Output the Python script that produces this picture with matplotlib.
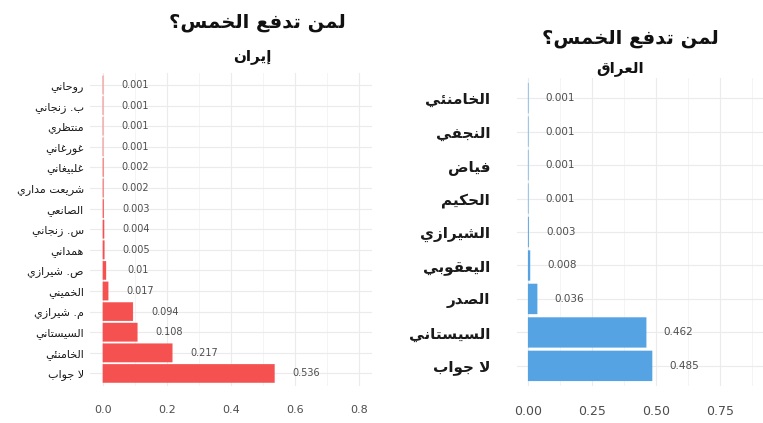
import numpy as np
import matplotlib
matplotlib.use("Agg")
import matplotlib.pyplot as plt
from matplotlib.ticker import MultipleLocator

plt.rcParams['font.family'] = ['DejaVu Sans']

# ---- data -------------------------------------------------------------
title_text = "لمن تدفع الخمس؟"

iran_title = "إيران"
iran_labels = ["روحاني", "ب. زنجاني", "منتظري", "غورغاني", "غلبيغاني",
               "شريعت مداري", "الصانعي", "س. زنجاني", "همداني", "ص. شيرازي",
               "الخميني", "م. شيرازي", "السيستاني", "الخامنئي", "لا جواب"]
iran_values = [0.001, 0.001, 0.001, 0.001, 0.002, 0.002, 0.003, 0.004,
               0.005, 0.01, 0.017, 0.094, 0.108, 0.217, 0.536]
iran_ticks = [0.0, 0.2, 0.4, 0.6, 0.8]

iraq_title = "العراق"
iraq_labels = ["الخامنئي", "النجفي", "فياض", "الحكيم", "الشيرازي",
               "اليعقوبي", "الصدر", "السيستاني", "لا جواب"]
iraq_values = [0.001, 0.001, 0.001, 0.001, 0.003, 0.008, 0.036, 0.462, 0.485]
iraq_ticks = [0.00, 0.25, 0.50, 0.75]

# ---- Arabic shaping (contextual forms + right-to-left order) ----------
DUAL = {'ئ': 0xFE89, 'ب': 0xFE8F, 'ت': 0xFE95, 'ث': 0xFE99, 'ج': 0xFE9D,
        'ح': 0xFEA1, 'خ': 0xFEA5, 'س': 0xFEB1, 'ش': 0xFEB5, 'ص': 0xFEB9,
        'ض': 0xFEBD, 'ط': 0xFEC1, 'ظ': 0xFEC5, 'ع': 0xFEC9, 'غ': 0xFECD,
        'ف': 0xFED1, 'ق': 0xFED5, 'ك': 0xFED9, 'ل': 0xFEDD, 'م': 0xFEE1,
        'ن': 0xFEE5, 'ه': 0xFEE9, 'ي': 0xFEF1}
RIGHT = {'آ': 0xFE81, 'أ': 0xFE83, 'ؤ': 0xFE85, 'إ': 0xFE87, 'ا': 0xFE8D,
         'ة': 0xFE93, 'د': 0xFEA9, 'ذ': 0xFEAB, 'ر': 0xFEAD, 'ز': 0xFEAF,
         'و': 0xFEED, 'ى': 0xFEEF}
LAM_ALEF = {'ا': 0xFEFB, 'أ': 0xFEF7, 'إ': 0xFEF9, 'آ': 0xFEF5}


def shape(s):
    units = []
    i = 0
    while i < len(s):
        c = s[i]
        if c == 'ل' and i + 1 < len(s) and s[i + 1] in LAM_ALEF:
            units.append(('LA', s[i + 1]))
            i += 2
        else:
            units.append(('C', c))
            i += 1

    def joins_next(u):
        return u[0] == 'C' and u[1] in DUAL

    def is_letter(u):
        return u[0] == 'LA' or u[1] in DUAL or u[1] in RIGHT

    out = []
    for k, u in enumerate(units):
        prev = units[k - 1] if k > 0 else None
        nxt = units[k + 1] if k + 1 < len(units) else None
        jp = prev is not None and joins_next(prev) and is_letter(u)
        jn = joins_next(u) and nxt is not None and is_letter(nxt)
        kind, c = u
        if kind == 'LA':
            out.append(chr(LAM_ALEF[c] + (1 if jp else 0)))
        elif c in DUAL:
            off = 3 if (jp and jn) else 1 if jp else 2 if jn else 0
            out.append(chr(DUAL[c] + off))
        elif c in RIGHT:
            out.append(chr(RIGHT[c] + (1 if jp else 0)))
        else:
            out.append(c)
    return ''.join(reversed(out))


# ---- figure -----------------------------------------------------------
W, H = 763, 423
fig = plt.figure(figsize=(W / 100, H / 100), dpi=100)
fig.patch.set_facecolor('white')


def px_axes(x0, y0, x1, y1):
    return fig.add_axes([x0 / W, 1 - y1 / H, (x1 - x0) / W, (y1 - y0) / H])


def draw_panel(ax, labels, values, color, xlim, major, minor, ticks, tick_fmt,
               label_off, label_size, label_weight, label_pad, val_size, tick_size):
    n = len(labels)
    y = np.arange(n)
    ax.barh(y, values, height=0.9, color=color, zorder=2, snap=False,
            edgecolor=color, linewidth=0.15)
    for yi, v in zip(y, values):
        ax.text(v + label_off, yi, f"{v:g}", ha='center', va='center',
                fontsize=val_size, color='#4d4d4d', zorder=3)
    ax.set_ylim(n - 0.4, -0.6)
    ax.set_xlim(*xlim)
    ax.set_yticks(y)
    ax.set_yticklabels([shape(l) for l in labels], fontsize=label_size,
                       fontweight=label_weight, color='#1a1a1a')
    ax.xaxis.set_major_locator(MultipleLocator(major))
    ax.xaxis.set_minor_locator(MultipleLocator(minor))
    ax.set_xticks(ticks)
    ax.set_xticklabels([tick_fmt.format(t) for t in ticks], fontsize=tick_size,
                       color='#4d4d4d')
    ax.grid(True, which='major', color='#ebebeb', linewidth=0.8, zorder=0)
    ax.grid(True, which='minor', axis='x', color='#f3f3f3', linewidth=0.6, zorder=0)
    ax.set_axisbelow(True)
    ax.tick_params(axis='both', which='both', length=0)
    ax.tick_params(axis='y', pad=label_pad)
    ax.tick_params(axis='x', pad=14)
    for s in ax.spines.values():
        s.set_visible(False)
    ax.set_facecolor('white')


ax1 = px_axes(90, 72.6, 372, 385.8)
draw_panel(ax1, iran_labels, iran_values, '#f55150', (-0.04, 0.84), 0.2, 0.1,
           iran_ticks, "{:.1f}", 0.1, 8, 'normal', 4.5, 7, 8)

ax2 = px_axes(516.5, 78, 763.5, 386)
draw_panel(ax2, iraq_labels, iraq_values, '#55a3e3', (-0.045, 0.92), 0.25, 0.125,
           iraq_ticks, "{:.2f}", 0.125, 11, 'bold', 19, 7.5, 9)

# headings
fig.text(257 / W, 1 - 22 / H, shape(title_text), ha='center', va='center',
         fontsize=14, fontweight='bold', color='#111111')
fig.text(252 / W, 1 - 57 / H, shape(iran_title), ha='center', va='center',
         fontsize=11, fontweight='bold', color='#111111')
fig.text(630 / W, 1 - 38 / H, shape(title_text), ha='center', va='center',
         fontsize=14, fontweight='bold', color='#111111')
fig.text(620 / W, 1 - 68 / H, shape(iraq_title), ha='center', va='center',
         fontsize=11, fontweight='bold', color='#111111')

fig.savefig('out.png', dpi=100, facecolor='white')
